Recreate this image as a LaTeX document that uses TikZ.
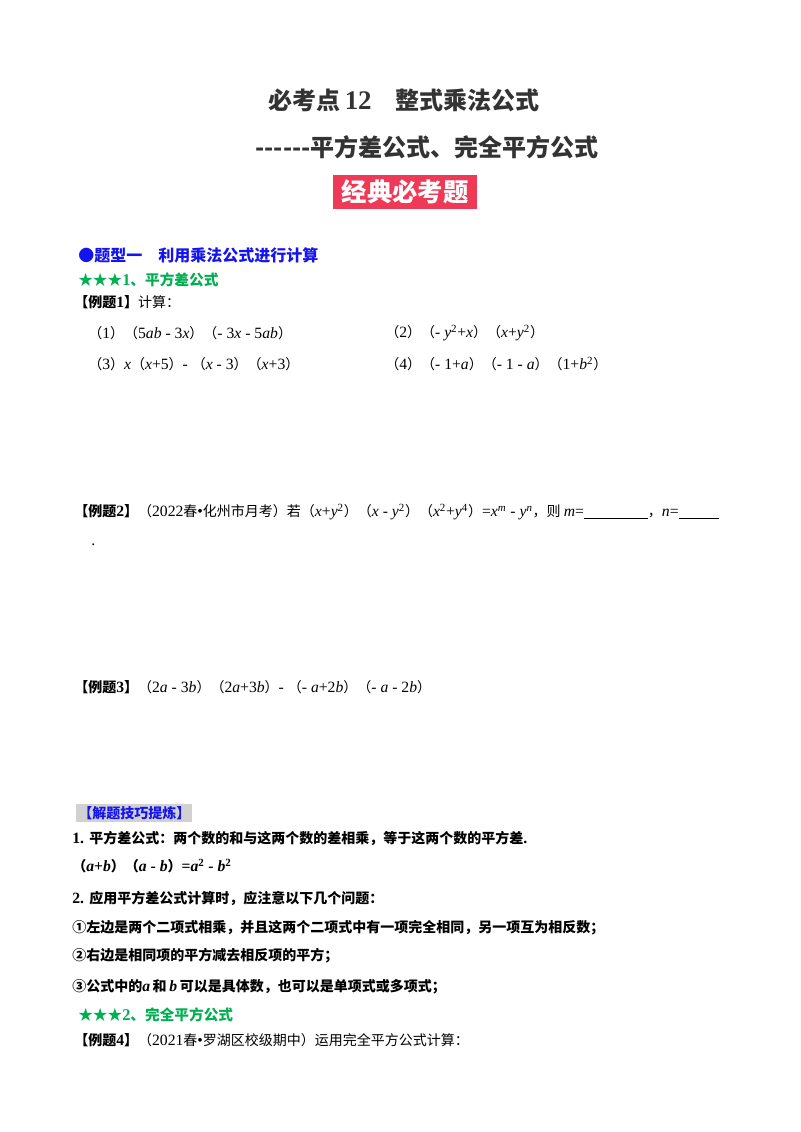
\documentclass[tikz,border=0pt]{standalone}
\usepackage{fontspec}
\setmainfont{Liberation Serif}[Scale=1.12]
\newfontfamily\cjk{Noto Sans CJK SC}
\newcommand\C[1]{{\cjk #1}}
\newcommand\lp{\C{（}}
\newcommand\rp{\C{）}}
\newcommand\I[1]{\textit{#1}}
\newcommand\sq[1]{\textsuperscript{#1}}
\definecolor{badge}{HTML}{EE3A57}
\definecolor{tblue}{HTML}{1414F0}
\definecolor{tgreen}{HTML}{00B050}
\begin{document}
\begin{tikzpicture}[x=0.75pt,y=-0.75pt,
  txt/.style={anchor=west,inner sep=0pt,font=\fontsize{10.5}{12}\selectfont},
  btxt/.style={txt,font=\fontsize{10.5}{12}\selectfont\bfseries},
  ttl/.style={anchor=center,inner sep=0pt,font=\fontsize{18}{20}\selectfont\bfseries,text=black!80}]
\useasboundingbox (0,0) rectangle (800,1132);
\node[ttl] (t1) at (404,100) {\C{必考点}\,12\C{　整式乘法公式}};
\node[ttl,font=\fontsize{18}{20}\selectfont\bfseries\cjk] (t2) at (427,147) {------平方差公式、完全平方公式};
\node[fill=badge,text=white,minimum width=108pt,minimum height=26pt,inner sep=0pt,font=\fontsize{19}{20}\selectfont\bfseries\cjk] (badge) at (405,192) {经典必考题};
\node[btxt,text=tblue,font=\fontsize{12}{13}\selectfont\bfseries\cjk] (h1) at (78,255) {●题型一\quad 利用乘法公式进行计算};
\node[btxt,text=tgreen,font=\fontsize{11}{12}\selectfont\bfseries] (s1) at (78,280) {\C{★★★}1\C{、平方差公式}};
\node[txt] (e1) at (74,302) {\textbf{\C{【}\C{例题}1\C{】}}\C{计算：}};
\node[txt] (p1) at (88,333) {\lp1\rp\lp5\I{ab} - 3\I{x}\rp\lp - 3\I{x} - 5\I{ab}\rp};
\node[txt] (p2) at (385,333) {\lp2\rp\lp - \I{y}\sq{2}+\I{x}\rp\lp\I{x}+\I{y}\sq{2}\rp};
\node[txt] (p3) at (88,364) {\lp3\rp\I{x}\lp\I{x}+5\rp - \lp\I{x} - 3\rp\lp\I{x}+3\rp};
\node[txt] (p4) at (385,364) {\lp4\rp\lp - 1+\I{a}\rp\lp - 1 - \I{a}\rp\lp1+\I{b}\sq{2}\rp};
\node[txt] (e2) at (74,512) {\textbf{\C{【}\C{例题}2\C{】}}\lp2022\C{春}•\C{化州市月考}\rp\C{若}\lp\I{x}+\I{y}\sq{2}\rp\lp\I{x} - \I{y}\sq{2}\rp\lp\I{x}\sq{2}+\I{y}\sq{4}\rp=\I{x}\sq{\I{m}} - \I{y}\sq{\I{n}}\C{，则 }\I{m}=\underline{\hspace{48pt}}\C{，}\I{n}=\underline{\hspace{30pt}}};
\node[txt] (dot) at (91,545) {.};
\node[txt] (e3) at (74,687) {\textbf{\C{【}\C{例题}3\C{】}}\lp2\I{a} - 3\I{b}\rp\lp2\I{a}+3\I{b}\rp - \lp - \I{a}+2\I{b}\rp\lp - \I{a} - 2\I{b}\rp};
\node[btxt,fill=black!18,text=tblue,inner sep=1.5pt,font=\fontsize{10.5}{12}\selectfont\bfseries\cjk] (tip) at (76,813) {【解题技巧提炼】};
\node[btxt] (r1) at (72,838) {1. \C{平方差公式：两个数的和与这两个数的差相乘，等于这两个数的平方差}.};
\node[btxt] (r2) at (72,866) {\lp\I{a}+\I{b}\rp\lp\I{a} - \I{b}\rp=\I{a}\sq{2} - \I{b}\sq{2}};
\node[btxt] (r3) at (72,898) {2. \C{应用平方差公式计算时，应注意以下几个问题：}};
\node[btxt] (r4) at (72,928) {\C{①左边是两个二项式相乘，并且这两个二项式中有一项完全相同，另一项互为相反数；}};
\node[btxt] (r5) at (72,956) {\C{②右边是相同项的平方减去相反项的平方；}};
\node[btxt] (r6) at (72,987) {\C{③公式中的}\I{a}\,\C{和}\,\I{b}\,\C{可以是具体数，也可以是单项式或多项式；}};
\node[btxt,text=tgreen,font=\fontsize{11}{12}\selectfont\bfseries] (s2) at (78,1015) {\C{★★★}2\C{、完全平方公式}};
\node[txt] (e4) at (74,1040) {\textbf{\C{【}\C{例题}4\C{】}}\lp2021\C{春}•\C{罗湖区校级期中}\rp\C{运用完全平方公式计算：}};
\end{tikzpicture}
\end{document}
